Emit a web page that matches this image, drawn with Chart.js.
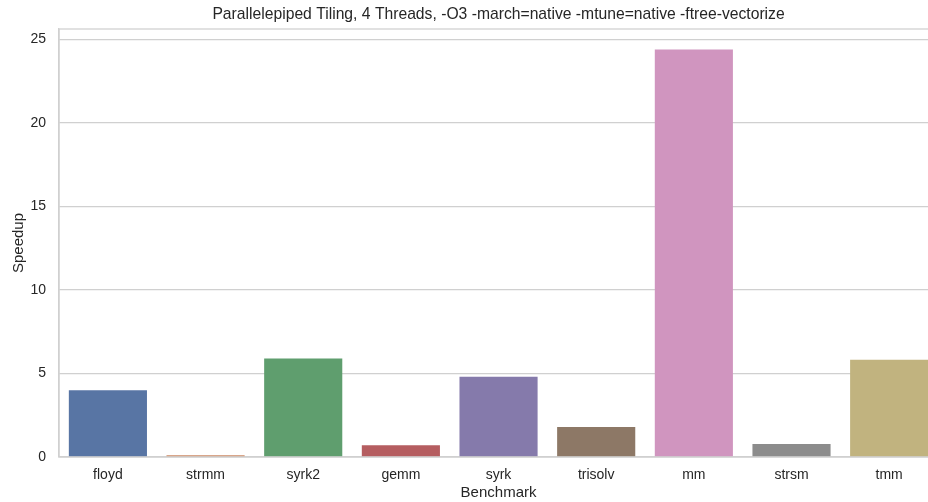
<!DOCTYPE html>
<html>
<head>
<meta charset="utf-8">
<script src="https://cdn.jsdelivr.net/npm/chart.js@4/dist/chart.umd.min.js"></script>
<style>
	body { margin: 0; overflow: hidden; background: #fff; }
	.wrap { position: relative; width: 938px; height: 502px; }
</style>
</head>
<body>
<div class="wrap"><canvas class="speedup-chart"></canvas></div>
<script>
const benchmarks = ['floyd', 'strmm', 'syrk2', 'gemm', 'syrk', 'trisolv', 'mm', 'strsm', 'tmm'];
const speedups = [4.0, 0.1, 5.9, 0.7, 4.8, 1.8, 24.4, 0.78, 5.82];
const barColors = ['#5875a4', '#cc8963', '#5f9e6e', '#b55d60', '#857aab', '#8d7866', '#d095bf', '#8c8c8c', '#c1b37f'];
const yTicks = [0, 5, 10, 15, 20, 25];
const chartTitle = 'Parallelepiped Tiling, 4 Threads, -O3 -march=native -mtune=native -ftree-vectorize';

const fontFamily = '"Liberation Sans", Arial, sans-serif';
const textColor = '#262626';
const gridColor = '#d0d0d0';

// seaborn style: spine all round the axes + title centred over the axes (like matplotlib)
const frame = {
	id: 'frame',
	afterDraw(chart) {
		const { ctx, chartArea: a } = chart;
		ctx.save();
		ctx.strokeStyle = gridColor;
		ctx.lineWidth = 1.25;
		ctx.strokeRect(a.left, a.top, a.right - a.left, a.bottom - a.top);
		ctx.fillStyle = textColor;
		ctx.font = '15.7px ' + fontFamily;
		ctx.textAlign = 'center';
		ctx.textBaseline = 'middle';
		ctx.fillText(chartTitle, (a.left + a.right) / 2, 15);
		ctx.restore();
	},
};

const createChart = function () {
	const data = {
		labels: benchmarks,
		datasets: [
			{
				label: 'Speedup',
				data: speedups,
				backgroundColor: barColors,
				borderWidth: 0,
				categoryPercentage: 1,
				barPercentage: 0.8,
			},
		],
	};

	const config = {
		type: 'bar',
		data: data,
		options: {
			responsive: true,
			maintainAspectRatio: false,
			animation: false,
			layout: { padding: { top: 29, left: 0, right: 0, bottom: 0 } },
			plugins: {
				legend: { display: false },
				tooltip: { enabled: false },
				title: { display: false },
			},
			scales: {
				x: {
					grid: { display: false, drawTicks: false },
					border: { color: gridColor, width: 1.25 },
					ticks: { color: textColor, font: { family: fontFamily, size: 14 }, padding: 9.6 },
					title: {
						display: true,
						text: 'Benchmark',
						color: textColor,
						font: { family: fontFamily, size: 15 },
						padding: { top: -9, bottom: 0 },
					},
				},
				y: {
					min: 0,
					max: Math.max(...speedups) * 1.05,
					afterBuildTicks: (scale) => {
						scale.ticks = yTicks.map((v) => ({ value: v }));
					},
					grid: { color: gridColor, lineWidth: 1.25, drawTicks: false },
					border: { color: gridColor, width: 1.25 },
					ticks: { color: textColor, font: { family: fontFamily, size: 14 }, padding: 13 },
					title: {
						display: true,
						text: 'Speedup',
						color: textColor,
						font: { family: fontFamily, size: 15 },
						padding: { top: 9.5, bottom: -10 },
					},
				},
			},
		},
		plugins: [frame],
	};

	const ctx = document.querySelector('.speedup-chart');
	new Chart(ctx, config);
};

document.addEventListener('DOMContentLoaded', createChart);
</script>
</body>
</html>
